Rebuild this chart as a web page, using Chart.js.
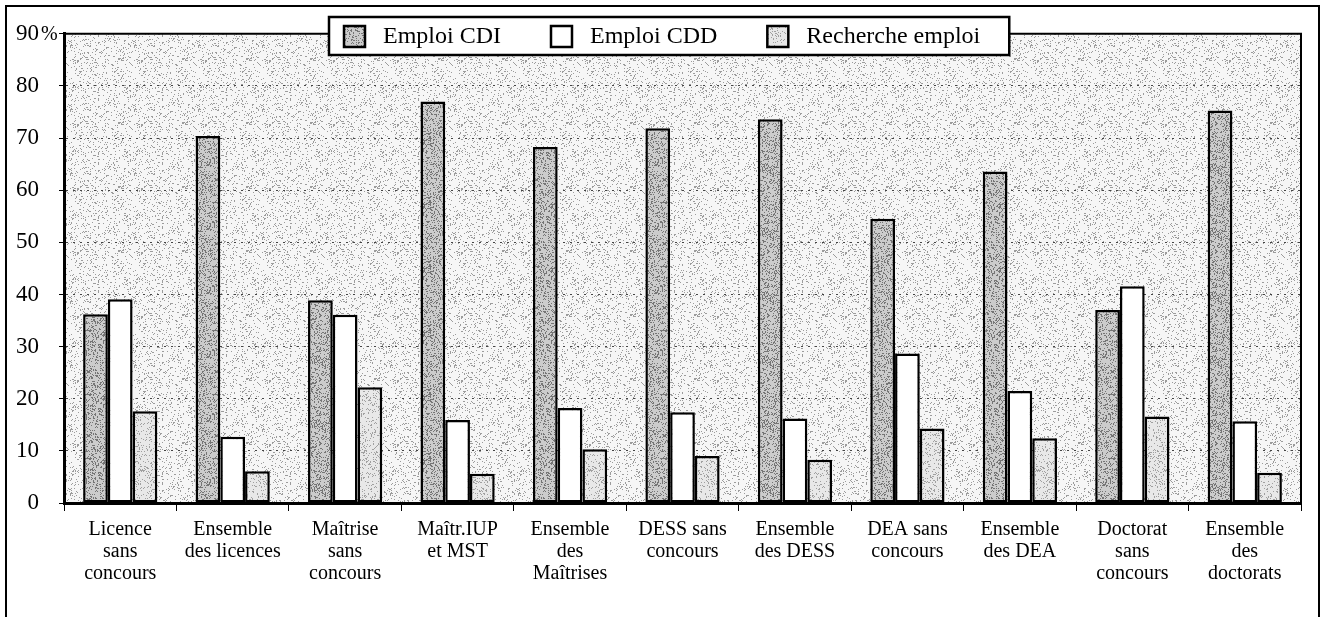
<!DOCTYPE html>
<html>
<head>
<meta charset="utf-8">
<script src="https://cdn.jsdelivr.net/npm/chart.js@4/dist/chart.umd.min.js"></script>
<style>
  html, body { margin: 0; padding: 0; background: #fff; }
  #wrap { width: 1323px; height: 617px; position: relative; }
</style>
</head>
<body>
<div id="wrap"><canvas id="graf"></canvas></div>
<script>
// categories (multi-line labels)
const categorias = [
    ['Licence', 'sans', 'concours'],
    ['Ensemble', 'des licences'],
    ['Maîtrise', 'sans', 'concours'],
    ['Maîtr.IUP', 'et MST'],
    ['Ensemble', 'des', 'Maîtrises'],
    ['DESS sans', 'concours'],
    ['Ensemble', 'des DESS'],
    ['DEA sans', 'concours'],
    ['Ensemble', 'des DEA'],
    ['Doctorat', 'sans', 'concours'],
    ['Ensemble', 'des', 'doctorats']
];
const nomesSeries = ['Emploi CDI', 'Emploi CDD', 'Recherche emploi'];
const emploiCDI = [36.2, 70.4, 38.9, 77.0, 68.3, 71.9, 73.6, 54.5, 63.6, 37.0, 75.3];
const emploiCDD = [39.1, 12.7, 36.1, 15.9, 18.2, 17.4, 16.2, 28.7, 21.5, 41.6, 15.7];
const rechercheEmploi = [17.6, 6.1, 22.2, 5.6, 10.3, 9.0, 8.3, 14.3, 12.4, 16.6, 5.8];
const yMax = 90;
const yStep = 10;

const fonte = "'Liberation Serif', 'Times New Roman', serif";

// textura pontilhada (como o scan original)
function pontilhado(base, ponto, qtd, semente) {
    const c = document.createElement('canvas');
    c.width = 64; c.height = 64;
    const g = c.getContext('2d');
    g.fillStyle = base;
    g.fillRect(0, 0, 64, 64);
    g.fillStyle = ponto;
    let s = semente;
    for (let i = 0; i < qtd; i++) {
        s = (s * 16807) % 2147483647;
        const x = s % 64;
        s = (s * 16807) % 2147483647;
        const y = s % 64;
        g.fillRect(x, y, 1, 1);
    }
    return g.createPattern(c, 'repeat');
}

const fundoPlot = pontilhado('#f6f6f6', '#9c9c9c', 520, 12345);
const corCDI = pontilhado('#cccccc', '#757575', 1200, 777);
const corCDD = '#ffffff';
const corRech = pontilhado('#e8e8e8', '#a0a0a0', 700, 4242);
const coresSeries = [corCDI, corCDD, corRech];

// plugin: moldura externa, fundo da area, bordas e legenda
const plugDesenho = {
    id: 'desenho',
    beforeDraw(chart) {
        const ctx = chart.ctx;
        const a = chart.chartArea;
        ctx.save();
        ctx.fillStyle = '#fff';
        ctx.fillRect(0, 0, chart.width, chart.height);
        ctx.fillStyle = fundoPlot;
        ctx.fillRect(a.left, a.top, a.right - a.left, a.bottom - a.top);
        ctx.strokeStyle = '#000';
        ctx.lineWidth = 2;
        ctx.strokeRect(6, 6, 1313, 700);
        ctx.restore();
    },
    afterDraw(chart) {
        const ctx = chart.ctx;
        const a = chart.chartArea;
        ctx.save();
        // bordas topo e direita
        ctx.strokeStyle = '#000';
        ctx.lineWidth = 2;
        ctx.beginPath();
        ctx.moveTo(a.left, a.top);
        ctx.lineTo(a.right, a.top);
        ctx.lineTo(a.right, a.bottom);
        ctx.stroke();

        // simbolo % ao lado do 90
        const y90 = chart.scales.y.getPixelForValue(yMax);
        ctx.fillStyle = '#000';
        ctx.font = '20px ' + fonte;
        ctx.textBaseline = 'middle';
        ctx.textAlign = 'left';
        ctx.fillText('%', 41, y90 + 1);

        // legenda
        ctx.font = '24px ' + fonte;
        const ini = 344, gap = 50, quad = 21, txtOff = 39;
        let x = ini;
        const pos = [];
        nomesSeries.forEach((nome) => {
            pos.push(x);
            x += txtOff + ctx.measureText(nome).width + gap;
        });
        const fim = x - gap + 29;
        ctx.fillStyle = '#fff';
        ctx.fillRect(329, 17, fim - 329, 38);
        ctx.lineWidth = 2.5;
        ctx.strokeRect(329, 17, fim - 329, 38);
        nomesSeries.forEach((nome, i) => {
            ctx.fillStyle = coresSeries[i];
            ctx.fillRect(pos[i], 26, quad, quad);
            ctx.strokeRect(pos[i], 26, quad, quad);
            ctx.fillStyle = '#000';
            ctx.fillText(nome, pos[i] + txtOff, 37);
        });
        ctx.restore();
    }
};

new Chart(document.getElementById('graf'), {
    type: 'bar',
    data: {
        labels: categorias,
        datasets: [
            { label: nomesSeries[0], data: emploiCDI, backgroundColor: corCDI },
            { label: nomesSeries[1], data: emploiCDD, backgroundColor: corCDD },
            { label: nomesSeries[2], data: rechercheEmploi, backgroundColor: corRech }
        ].map(d => Object.assign(d, {
            borderColor: '#000',
            borderWidth: 2.5,
            borderSkipped: false,
            categoryPercentage: 0.66,
            barPercentage: 1.0
        }))
    },
    options: {
        responsive: true,
        maintainAspectRatio: false,
        animation: false,
        devicePixelRatio: 1,
        layout: { padding: { top: 29, right: 22, left: 0, bottom: 0 } },
        plugins: {
            legend: { display: false },
            tooltip: { enabled: false }
        },
        scales: {
            x: {
                grid: {
                    display: true,
                    offset: true,
                    drawOnChartArea: false,
                    drawTicks: true,
                    tickLength: 8,
                    color: '#000',
                    lineWidth: 1
                },
                border: { display: true, color: '#000', width: 3 },
                ticks: {
                    color: '#000',
                    font: { family: fonte, size: 20, lineHeight: 1.1 },
                    maxRotation: 0,
                    minRotation: 0,
                    autoSkip: false,
                    padding: 8
                },
                afterFit(scale) { scale.height = 114; }
            },
            y: {
                min: 0,
                max: yMax,
                grid: {
                    color: (c) => (c.tick && (c.tick.value === 0 || c.tick.value === yMax)) ? 'rgba(0,0,0,0)' : '#444',
                    lineWidth: 1,
                    drawTicks: true,
                    tickLength: 5,
                    tickColor: '#000',
                    tickWidth: 1,
                    tickBorderDash: []
                },
                border: { display: true, color: '#000', width: 3, dash: [2, 5] },
                ticks: {
                    stepSize: yStep,
                    color: '#000',
                    font: { family: fonte, size: 23 },
                    padding: 20
                },
                afterFit(scale) { scale.width = 64; }
            }
        }
    },
    plugins: [plugDesenho]
});
</script>
</body>
</html>
